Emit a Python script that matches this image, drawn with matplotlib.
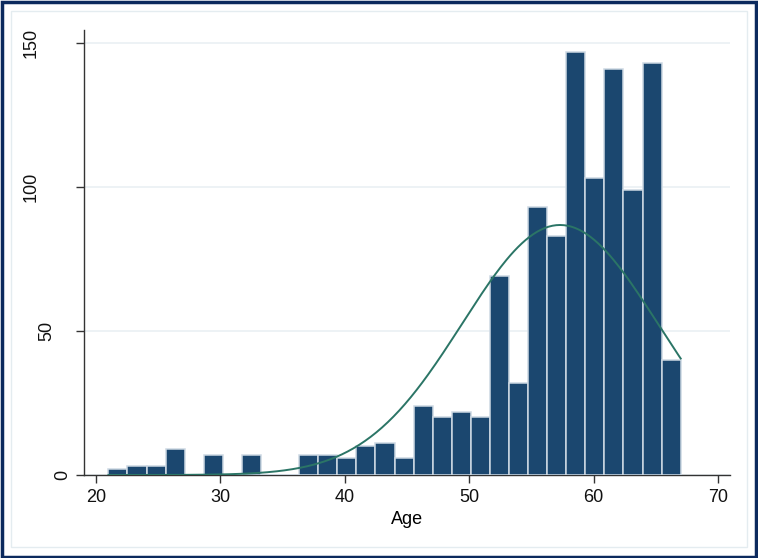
import numpy as np
import matplotlib
matplotlib.use("Agg")
import matplotlib.pyplot as plt
from matplotlib.patches import Rectangle
from matplotlib.transforms import blended_transform_factory, IdentityTransform

# histogram of Age: 30 bins from 21 to 67
bin_start = 21.0
bin_end = 67.0
counts = [2, 3, 3, 9, 0, 7, 0, 7, 0, 0,
          7, 7, 6, 10, 11, 6, 24, 20, 22, 20,
          69, 32, 93, 83, 147, 103, 141, 99, 143, 40]

# normal overlay parameters
age_mean = 57.3
age_sd = 7.85

xticks = [20, 30, 40, 50, 60, 70]
yticks = [0, 50, 100, 150]

plt.rcParams['font.family'] = ['Liberation Sans', 'DejaVu Sans']

fig = plt.figure(figsize=(7.58, 5.58), dpi=100)
ax = fig.add_axes([0.1108, 0.1487, 0.8522, 0.7975])

nb = len(counts)
width = (bin_end - bin_start) / nb
edges = bin_start + width * np.arange(nb + 1)
ax.bar(edges[:-1], counts, width=width, align='edge', color='#1b476f',
       edgecolor='#cdd8e3', linewidth=1.1, zorder=3)

# normal density scaled to counts
n_obs = sum(counts)
xs = np.linspace(bin_start, bin_end, 300)
ys = n_obs * width / (age_sd * np.sqrt(2 * np.pi)) * np.exp(-0.5 * ((xs - age_mean) / age_sd) ** 2)
ax.plot(xs, ys, color='#2b7566', lw=1.4, zorder=4)

ax.set_xlim(19.04, 70.96)
ax.set_ylim(0, 154.5)
ax.set_xticks(xticks)
ax.set_yticks(yticks)
ax.set_yticklabels([])
ax.tick_params(axis='both', labelsize=13, length=6, width=1, color='#333333', colors='#111111')
ax.tick_params(axis='x', pad=4)

# stata-style rotated y labels: longer labels sit further left
ytrans = blended_transform_factory(IdentityTransform(), ax.transData)
for t in yticks:
    lab = str(t)
    xc = 62.5 - 15.5 * (len(lab) - 1)
    ax.text(xc, t, lab, transform=ytrans, rotation=90, ha='center', va='center',
            fontsize=13, color='#111111')

ax.grid(axis='y', color='#eaf0f3', lw=1.2, zorder=0)
ax.set_axisbelow(True)
for s in ['top', 'right']:
    ax.spines[s].set_visible(False)
for s in ['left', 'bottom']:
    ax.spines[s].set_color('#333333')
    ax.spines[s].set_linewidth(1.0)

ax.set_xlabel('Age', fontsize=13, labelpad=4)

# frame around the graph region
fig.patches.append(Rectangle((11 / 758, 11 / 558), 1 - 22 / 758, 1 - 22 / 558,
                             transform=fig.transFigure, fill=False,
                             edgecolor='#e4ecf0', lw=1))
fig.patches.append(Rectangle((1.5 / 758, 1.5 / 558), 1 - 3 / 758, 1 - 3 / 558,
                             transform=fig.transFigure, fill=False,
                             edgecolor='#0c2a5e', lw=2.5))

fig.savefig('out.png', dpi=100)
